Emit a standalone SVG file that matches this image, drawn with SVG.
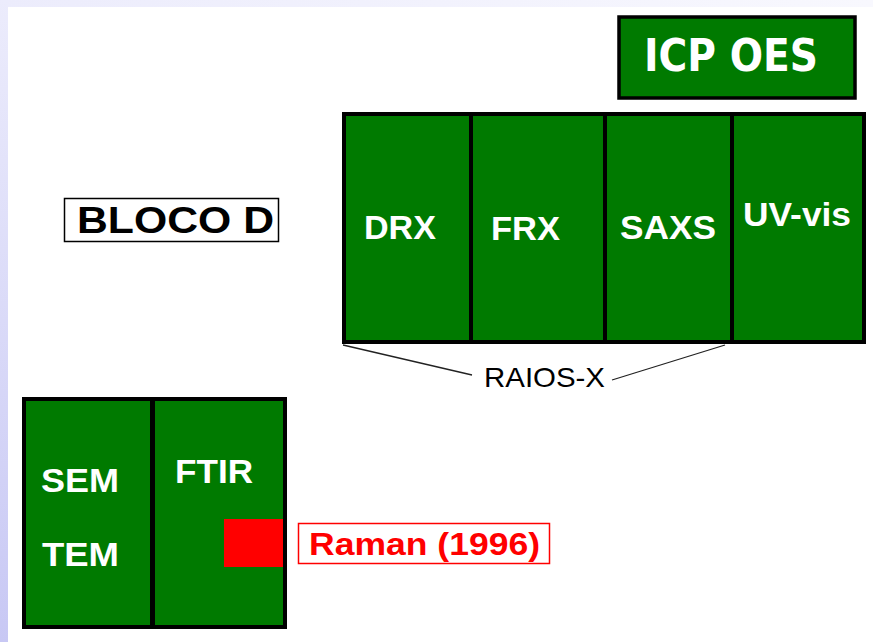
<svg xmlns="http://www.w3.org/2000/svg" width="873" height="642" viewBox="0 0 873 642">
<defs>
<linearGradient id="gl" x1="0" y1="0" x2="0" y2="1">
<stop offset="0" stop-color="#ececfc"/>
<stop offset="1" stop-color="#c8c8f4"/>
</linearGradient>
<linearGradient id="gt" x1="0" y1="0" x2="1" y2="0">
<stop offset="0" stop-color="#ececfc"/>
<stop offset="1" stop-color="#f8f8fe"/>
</linearGradient>
<style>
.cell{fill:#007A00;stroke:#000;stroke-width:4}
.div{stroke:#000;stroke-width:4}
.wt{font-family:"Liberation Sans",Arial,sans-serif;font-weight:bold;font-size:33px;fill:#fff}
.conn{stroke:#222;stroke-width:1.3;fill:none}
</style>
</defs>
<rect x="0" y="0" width="873" height="642" fill="#fff"/>
<rect x="0" y="0" width="873" height="7" fill="url(#gt)"/>
<rect x="0" y="0" width="8" height="642" fill="url(#gl)"/>

<g id="icp-oes">
<rect x="619" y="17" width="236" height="81" fill="#007A00" stroke="#000" stroke-width="3.5"/>
<text x="644" y="71" font-family="DejaVu Sans,Verdana,sans-serif" font-weight="bold" font-size="44" fill="#fff" textLength="174" lengthAdjust="spacingAndGlyphs">ICP OES</text>
</g>

<g id="raios-x-group">
<rect class="cell" x="344" y="114" width="520" height="228"/>
<line class="div" x1="471" y1="114" x2="471" y2="342"/>
<line class="div" x1="605" y1="114" x2="605" y2="342"/>
<line class="div" x1="732" y1="114" x2="732" y2="342"/>
</g>
<g id="drx"><text class="wt" x="364" y="239" textLength="72" lengthAdjust="spacingAndGlyphs">DRX</text></g>
<g id="frx"><text class="wt" x="491" y="240" textLength="69" lengthAdjust="spacingAndGlyphs">FRX</text></g>
<g id="saxs"><text class="wt" x="620" y="239" textLength="96" lengthAdjust="spacingAndGlyphs">SAXS</text></g>
<g id="uv-vis"><text class="wt" x="743" y="226" textLength="108" lengthAdjust="spacingAndGlyphs">UV-vis</text></g>

<g id="connectors">
<line class="conn" x1="343" y1="345" x2="472" y2="375"/>
<line class="conn" x1="612" y1="380" x2="725" y2="345"/>
</g>
<g id="raios-x-label">
<text x="484" y="387" font-family="Liberation Sans,Arial,sans-serif" font-size="28" fill="#000" textLength="121" lengthAdjust="spacingAndGlyphs">RAIOS-X</text>
</g>

<g id="bloco-d">
<rect x="64.5" y="198.5" width="214" height="43" fill="#fff" stroke="#000" stroke-width="1.5"/>
<text x="77" y="233" font-family="Liberation Sans,Arial,sans-serif" font-weight="bold" font-size="36" fill="#000" textLength="197" lengthAdjust="spacingAndGlyphs">BLOCO D</text>
</g>

<g id="microscopy-group">
<rect x="24" y="399" width="261" height="228" fill="#007A00"/>
<rect x="224" y="519" width="62" height="48" fill="#f00"/>
<rect x="24" y="399" width="261" height="228" fill="none" stroke="#000" stroke-width="4"/>
<line x1="152.5" y1="399" x2="152.5" y2="627" stroke="#000" stroke-width="5"/>
</g>
<g id="sem"><text class="wt" x="41" y="492" textLength="78" lengthAdjust="spacingAndGlyphs">SEM</text></g>
<g id="tem"><text class="wt" x="42" y="566" textLength="77" lengthAdjust="spacingAndGlyphs">TEM</text></g>
<g id="ftir"><text class="wt" x="175" y="483" textLength="78" lengthAdjust="spacingAndGlyphs">FTIR</text></g>

<g id="raman">
<rect x="298.5" y="523.5" width="251" height="40" fill="#fff" stroke="#f00" stroke-width="1.5"/>
<text x="309" y="555" font-family="Liberation Sans,Arial,sans-serif" font-weight="bold" font-size="31" fill="#f00" textLength="231" lengthAdjust="spacingAndGlyphs">Raman (1996)</text>
</g>
</svg>
